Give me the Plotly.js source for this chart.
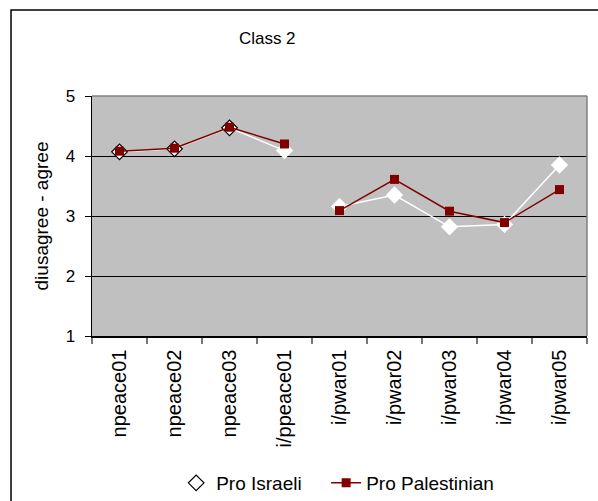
<!DOCTYPE html>
<html>
<head>
<meta charset="utf-8">
<script src="https://cdn.plot.ly/plotly-3.0.1.min.js"></script>
<style>
  html, body { margin: 0; padding: 0; background: #fff; }
  #chart { width: 598px; height: 501px; }
</style>
</head>
<body>
<div id="chart"></div>
<script>
const peaceCategories = ['npeace01', 'npeace02', 'npeace03', 'i/ppeace01'];
const warCategories = ['i/pwar01', 'i/pwar02', 'i/pwar03', 'i/pwar04', 'i/pwar05'];
const israeliPeace = [4.07, 4.12, 4.47, 4.09];
const israeliWar = [3.16, 3.35, 2.82, 2.86, 3.85];
const palestinianPeace = [4.08, 4.13, 4.48, 4.20];
const palestinianWar = [3.09, 3.61, 3.08, 2.89, 3.44];
const seriesNames = ['Pro Israeli', 'Pro Palestinian'];
const allCategories = peaceCategories.concat(warCategories);

const FONT = 'Liberation Sans, Arial, sans-serif';
const maroon = '#800000';

const israeliStyle = (outline) => ({
  mode: 'lines+markers',
  line: { color: '#ffffff', width: 1.5 },
  marker: { symbol: 'diamond', size: 12, color: '#ffffff', line: { color: outline, width: 1.2 } },
  legendgroup: 'isr', name: seriesNames[0], legend: 'legend'
});
const palStyle = {
  mode: 'lines+markers',
  line: { color: maroon, width: 1.5 },
  marker: { symbol: 'square', size: 9, color: maroon, line: { color: maroon, width: 0 } },
  legendgroup: 'pal', name: seriesNames[1], legend: 'legend2'
};

const traces = [
  Object.assign({ x: peaceCategories, y: israeliPeace, showlegend: true },
    israeliStyle(['#000000', '#000000', '#000000', '#ffffff'])),
  Object.assign({ x: warCategories, y: israeliWar, showlegend: false }, israeliStyle('#ffffff')),
  Object.assign({ x: peaceCategories, y: palestinianPeace, showlegend: true }, palStyle),
  Object.assign({ x: warCategories, y: palestinianWar, showlegend: false }, palStyle)
];

const legendFont = { family: FONT, size: 19, color: '#000' };

const layout = {
  width: 598, height: 501,
  margin: { l: 92, r: 11, t: 96, b: 165, autoexpand: false },
  paper_bgcolor: '#ffffff',
  plot_bgcolor: '#C0C0C0',
  font: { family: FONT, color: '#000', size: 17 },
  title: {
    text: 'Class 2', font: { family: FONT, size: 17, color: '#000' },
    x: 0.354, xref: 'paper', xanchor: 'center',
    y: 0.924, yref: 'container', yanchor: 'middle'
  },
  xaxis: {
    type: 'category', categoryorder: 'array', categoryarray: allCategories,
    range: [-0.5, allCategories.length - 0.5],
    showline: true, linecolor: '#000', linewidth: 1.5,
    ticks: 'outside', tickson: 'boundaries', ticklen: 6, tickcolor: '#777', tickwidth: 1.5,
    ticklabelstandoff: 4,
    tickangle: -90, tickfont: { family: FONT, size: 20, color: '#000' },
    showgrid: false, zeroline: false, fixedrange: true
  },
  yaxis: {
    range: [1, 5], dtick: 1, tick0: 1,
    showline: true, linecolor: '#000', linewidth: 1.5,
    ticks: 'outside', ticklen: 6, tickcolor: '#000', tickwidth: 1,
    ticklabelstandoff: 6,
    tickfont: { family: FONT, size: 17, color: '#000' },
    showgrid: true, gridcolor: '#000', gridwidth: 1, zeroline: false,
    title: { text: 'diusagree - agree', font: { family: FONT, size: 19, color: '#000' }, standoff: 12 },
    fixedrange: true
  },
  legend: {
    orientation: 'h', x: 0.17, xanchor: 'left', y: -0.6125, yanchor: 'middle',
    font: legendFont, bgcolor: 'rgba(0,0,0,0)'
  },
  legend2: {
    orientation: 'h', x: 0.473, xanchor: 'left', y: -0.6125, yanchor: 'middle',
    font: legendFont, bgcolor: 'rgba(0,0,0,0)'
  },
  shapes: [
    { type: 'line', xref: 'paper', yref: 'paper', x0: 0, x1: 1, y0: 1, y1: 1,
      line: { color: '#808080', width: 1.5 } },
    { type: 'line', xref: 'paper', yref: 'paper', x0: 1, x1: 1, y0: 0, y1: 1,
      line: { color: '#808080', width: 1.5 } },
    { type: 'rect', xref: 'paper', yref: 'paper', x0: -0.1636, x1: 2, y0: -2, y1: 1.358,
      line: { color: '#000', width: 1.5 }, fillcolor: 'rgba(0,0,0,0)' }
  ],
  showlegend: true
};

Plotly.newPlot('chart', traces, layout, { displayModeBar: false, staticPlot: true });
</script>
</body>
</html>
